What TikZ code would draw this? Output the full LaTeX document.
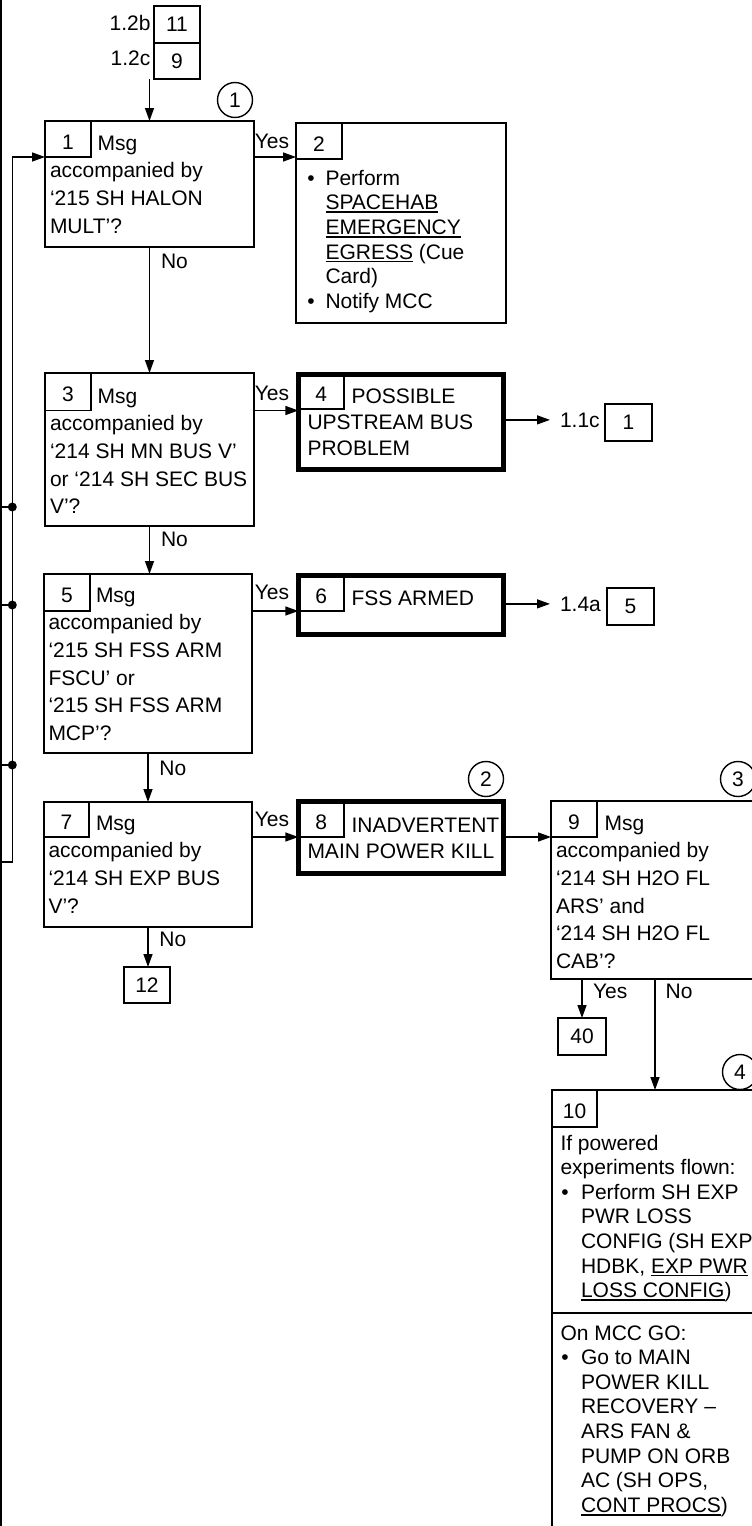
\documentclass[tikz,border=0pt]{standalone}
\usepackage{fontspec}
\setmainfont{Liberation Sans}
\usetikzlibrary{arrows.meta}
\newcommand\ulx[1]{\leavevmode\setbox0=\hbox{#1}\rlap{\rule[-3.3pt]{\wd0}{1.6pt}}\box0\relax}
\newcommand\tlines[2]{\parbox[t]{260pt}{\fontsize{21}{#1}\selectfont\raggedright #2}}
\begin{document}
\begin{tikzpicture}[x=1pt,y=-1pt,
  every node/.style={font=\fontsize{21}{27.7}\selectfont, inner sep=0pt, outer sep=0pt},
  box/.style={draw, line width=1.8pt, anchor=north west},
  heavybox/.style={draw, line width=4.6pt, anchor=north west},
  numbox/.style={draw, line width=1.4pt, anchor=north west, text height=20pt, text depth=0pt},
  refbox/.style={draw, line width=1.4pt, anchor=north west},
  txt/.style={anchor=base west},
  conn/.style={line width=1.4pt},
  arr/.style={conn, -{Triangle[length=13pt,width=9pt]}},
  marker/.style={draw, circle, line width=1.4pt, minimum size=35pt},
  dotn/.style={circle, fill, minimum size=9pt},
]
\clip (0,0) rectangle (752,1526);

% top references
\node[refbox, minimum width=46pt, minimum height=37pt] (r11) at (154,6) {11};
\node[refbox, minimum width=46pt, minimum height=36pt] (r9) at (154,43) {9};
\node[anchor=base east] (l12b) at (150.5,30.7) {1.2b};
\node[anchor=base east] (l12c) at (150.3,65.7) {1.2c};

% circle markers
\node[marker] (c1) at (235,100) {1};
\node[marker] (c2) at (486,779) {2};
\node[marker] (c3) at (738,779) {3};
\node[marker] (c4) at (740,1072) {4};

% box 1
\node[box, minimum width=209pt, minimum height=126pt] (b1) at (45,121) {};
\node[numbox, minimum width=46pt, minimum height=36pt] (n1) at (45,121) {1};
\node[txt] (t1) at (50,150) {\tlines{27.7pt}{\hspace*{47.7pt}Msg\\accompanied by\\‘215 SH HALON\\MULT’?}};

% box 2
\node[box, minimum width=210pt, minimum height=200pt] (b2) at (296,123) {};
\node[numbox, minimum width=46pt, minimum height=36pt] (n2) at (296,123) {2};
\node[txt] (u2a) at (307.3,185) {•};
\node[txt] (u2b) at (307.3,308.5) {•};
\node[txt] (t2) at (325.5,185) {\tlines{24.7pt}{Perform\\\ulx{SPACEHAB}\\\ulx{EMERGENCY}\\\ulx{EGRESS} (Cue\\Card)\\Notify MCC}};

% box 3
\node[box, minimum width=209pt, minimum height=153pt] (b3) at (45,373) {};
\node[numbox, minimum width=46pt, minimum height=37.5pt] (n3) at (45,373) {3};
\node[txt] (t3) at (50,403) {\tlines{27.7pt}{\hspace*{47.7pt}Msg\\accompanied by\\‘214 SH MN BUS V’\\or ‘214 SH SEC BUS\\V’?}};

% box 4
\node[heavybox, minimum width=205.3pt, minimum height=95.3pt] (b4) at (298.35,374.35) {};
\node[numbox, minimum width=45.65pt, minimum height=34.65pt] (n4) at (298.35,374.35) {4};
\node[txt] (t4) at (307.5,403) {\tlines{26pt}{\hspace*{44pt}POSSIBLE\\UPSTREAM BUS\\PROBLEM}};
\node[txt] (l11c) at (560,427) {1.1c};
\node[refbox, minimum width=47pt, minimum height=37pt] (r1) at (605,404) {1};

% box 5
\node[box, minimum width=208pt, minimum height=179pt] (b5) at (44,574) {};
\node[numbox, minimum width=46pt, minimum height=37pt] (n5) at (44,574) {5};
\node[txt] (t5) at (48.5,602) {\tlines{27.7pt}{\hspace*{47.5pt}Msg\\accompanied by\\‘215 SH FSS ARM\\FSCU’ or\\‘215 SH FSS ARM\\MCP’?}};

% box 6
\node[heavybox, minimum width=205.3pt, minimum height=59.3pt] (b6) at (298.35,575.35) {};
\node[numbox, minimum width=45.65pt, minimum height=35.65pt] (n6) at (298.35,575.35) {6};
\node[txt] (t6) at (351.5,605) {FSS ARMED};
\node[txt] (l14a) at (560,611) {1.4a};
\node[refbox, minimum width=47pt, minimum height=37pt] (r5) at (607,588) {5};

% box 7
\node[box, minimum width=208pt, minimum height=125pt] (b7) at (44,802) {};
\node[numbox, minimum width=45pt, minimum height=35pt] (n7) at (44,802) {7};
\node[txt] (t7) at (48.5,830) {\tlines{27.7pt}{\hspace*{47.5pt}Msg\\accompanied by\\‘214 SH EXP BUS\\V’?}};
\node[refbox, minimum width=46pt, minimum height=36pt] (r12) at (124,967) {12};

% box 8
\node[heavybox, minimum width=205.3pt, minimum height=72.3pt] (b8) at (298.35,801.35) {};
\node[numbox, minimum width=45.65pt, minimum height=35.65pt] (n8) at (298.35,801.35) {8};
\node[txt] (t8) at (307.5,832) {\tlines{26pt}{\hspace*{44pt}INADVERTENT\\MAIN POWER KILL}};

% box 9
\node[box, minimum width=207pt, minimum height=178pt] (b9) at (551,801) {};
\node[numbox, minimum width=46pt, minimum height=36pt] (n9) at (551,801) {9};
\node[txt] (t9) at (556,830) {\tlines{27.7pt}{\hspace*{48.6pt}Msg\\accompanied by\\‘214 SH H2O FL\\ARS’ and\\‘214 SH H2O FL\\CAB’?}};
\node[refbox, minimum width=48pt, minimum height=37pt] (r40) at (558,1018) {40};

% box 10
\node[box, minimum width=206pt, minimum height=445pt] (b10) at (552,1090) {};
\node[numbox, minimum width=45pt, minimum height=37pt] (n10) at (552,1090) {10};
\coordinate (dv) at (600,1313);
\draw[line width=1.8pt] (b10.west |- dv) -- (b10.east |- dv);
\node[txt] (u10a) at (561.3,1199.2) {•};
\node[txt] (u10b) at (561.3,1364.6) {•};
\node[txt] (t10a) at (560.5,1150) {\tlines{24.6pt}{If powered\\experiments flown:}};
\node[txt] (t10b) at (581,1199.2) {\tlines{24.6pt}{Perform SH EXP\\PWR LOSS\\CONFIG (SH EXP\\HDBK, \ulx{EXP PWR}\\\ulx{LOSS CONFIG})}};
\node[txt] (t10c) at (560.5,1340) {On MCC GO:};
\node[txt] (t10d) at (581,1364.6) {\tlines{24.6pt}{Go to MAIN\\POWER KILL\\RECOVERY –\\ARS FAN \&\\PUMP ON ORB\\AC (SH OPS,\\\ulx{CONT PROCS})}};

% Yes / No labels
\node[txt] (y1) at (254.8,148.3) {Yes};
\node[txt] (no1) at (161,268) {No};
\node[txt] (y3) at (254.8,400) {Yes};
\node[txt] (no3) at (161,546.7) {No};
\node[txt] (y5) at (254.8,599.3) {Yes};
\node[txt] (no5) at (159.4,775) {No};
\node[txt] (y7) at (254.8,826.7) {Yes};
\node[txt] (no7) at (159.4,946.7) {No};
\node[txt] (y9) at (593,998) {Yes};
\node[txt] (no9) at (665.7,998) {No};

% connectors
\draw[arr] (b1.north |- r9.south) -- (b1.north);
\draw[arr] (b1.south) -- (b3.north);
\draw[arr] (b3.south) -- (b3.south |- b5.north);
\draw[arr] (b5.south) -- (b7.north);
\draw[arr] (b7.south) -- (b7.south |- r12.north);
\draw[arr] (n1.south -| b1.east) -- (n1.south -| b2.west);
\draw[arr] (n3.south -| b3.east) -- (n3.south -| b4.west);
\draw[arr] (n5.south -| b5.east) -- (n5.south -| b6.west);
\draw[arr] (n7.south -| b7.east) -- (n7.south -| b8.west);
\draw[arr] (n8.south -| b8.east) -- (n8.south -| b9.west);
\draw[arr] (b4.east |- l11c.west) -- ([xshift=-10pt]l11c.west);
\draw[arr] (b6.east |- l14a.west) -- ([xshift=-10pt]l14a.west);
\draw[arr] (r40.north |- b9.south) -- (r40.north);
\draw[arr] ([xshift=104pt]b9.south west) -- ([xshift=103pt]b10.north west);

% left return lines
\coordinate (ltop) at (1,0);
\coordinate (lbot) at (1,1526);
\coordinate (lt) at (12.3,157);
\coordinate (lb) at (12.3,862);
\coordinate (lbo) at (1,862);
\draw[conn] (ltop) -- (lbot);
\draw[arr] (lbo) -- (lb) -- (lt) -- (lt -| b1.west);
\node[dotn] (d1) at (12.3,507) {};
\node[dotn] (d2) at (12.3,605) {};
\node[dotn] (d3) at (12.3,765) {};
\draw[conn] (d1.center -| ltop) -- (d1.center);
\draw[conn] (d2.center -| ltop) -- (d2.center);
\draw[conn] (d3.center -| ltop) -- (d3.center);
\end{tikzpicture}
\end{document}
